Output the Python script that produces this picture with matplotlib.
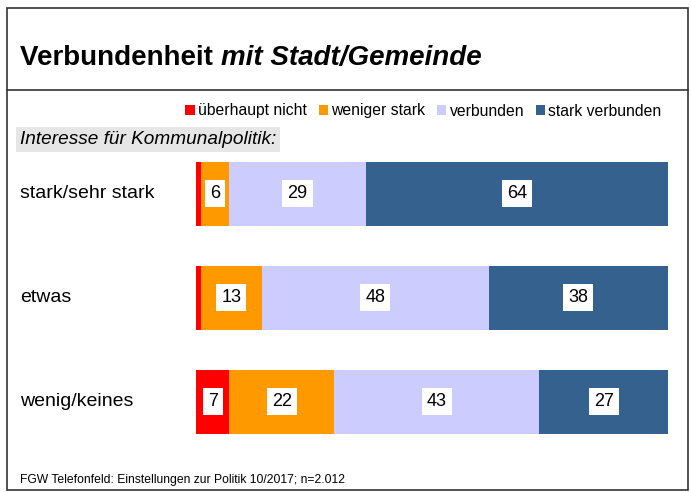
import matplotlib
matplotlib.use('Agg')
import matplotlib.pyplot as plt
from matplotlib.patches import Rectangle
from matplotlib.lines import Line2D
import numpy as np

plt.rcParams['font.family'] = ['Liberation Sans', 'DejaVu Sans']

# data (percent)
groups = ['stark/sehr stark', 'etwas', 'wenig/keines']
series = ['überhaupt nicht', 'weniger stark', 'verbunden', 'stark verbunden']
ueberhaupt_nicht = [1, 1, 7]
weniger_stark = [6, 13, 22]
verbunden = [29, 48, 43]
stark_verbunden = [64, 38, 27]
colors = ['#ff0000', '#ff9900', '#ccccff', '#35618f']

W, H = 691, 493
fig = plt.figure(figsize=(W / 100, H / 100), dpi=100)

def fx(px):
    return px / W

def fy(py):
    return 1 - py / H

# outer frame and title separator
fig.patches.append(Rectangle((fx(7), fy(490)), fx(688) - fx(7), fy(8) - fy(490),
                             transform=fig.transFigure, fill=False,
                             edgecolor='#333333', linewidth=1.2))
fig.lines.append(Line2D([fx(7), fx(688)], [fy(90), fy(90)],
                        transform=fig.transFigure, color='#333333', linewidth=1.2))

# title
t = fig.text(fx(20), fy(58), 'Verbundenheit ', fontsize=20, fontweight='bold',
             va='center', ha='left')
fig.canvas.draw()
bb = t.get_window_extent()
fig.text(bb.x1 / W, fy(58), 'mit Stadt/Gemeinde', fontsize=20, fontweight='bold',
         fontstyle='italic', va='center', ha='left')

# subtitle
fig.text(fx(20), fy(139.5), 'Interesse für Kommunalpolitik:', fontsize=13.7,
         fontstyle='italic', va='center', ha='left',
         bbox=dict(boxstyle='square,pad=0.22', facecolor='#e6e6e6', edgecolor='none'))

# footer
fig.text(fx(20), fy(480), 'FGW Telefonfeld: Einstellungen zur Politik 10/2017; n=2.012',
         fontsize=8.7, va='center', ha='left')

# bars
ax = fig.add_axes([fx(196), fy(453.5), fx(668) - fx(196), fy(142) - fy(453.5)])
data = np.array([ueberhaupt_nicht, weniger_stark, verbunden, stark_verbunden], dtype=float)
shares = data / data.sum(axis=0) * 100
y = np.arange(len(groups))
left = np.zeros(len(groups))
for i, name in enumerate(series):
    ax.barh(y, shares[i], left=left, height=64 / 104, color=colors[i], label=name)
    for j in range(len(groups)):
        if data[i, j] >= 5:
            ax.text(left[j] + shares[i, j] / 2, y[j], '%d' % data[i, j],
                    ha='center', va='center', fontsize=13,
                    bbox=dict(boxstyle='square,pad=0.28', facecolor='white',
                              edgecolor='none'))
    left += shares[i]

ax.set_xlim(0, 100)
ax.set_ylim(len(groups) - 0.5, -0.5)
ax.axis('off')

for j, g in enumerate(groups):
    fig.text(fx(20), fy(194 + j * 103.7), g, fontsize=14, va='center', ha='left')

# legend
handles, labels = ax.get_legend_handles_labels()
fig.legend(handles, labels, loc='center right', bbox_to_anchor=(fx(668), fy(111)),
           ncol=4, frameon=False, fontsize=11.3, handlelength=0.6, handleheight=0.6,
           handletextpad=0.2, columnspacing=0.75, borderaxespad=0)

fig.savefig('out.png', dpi=100)
